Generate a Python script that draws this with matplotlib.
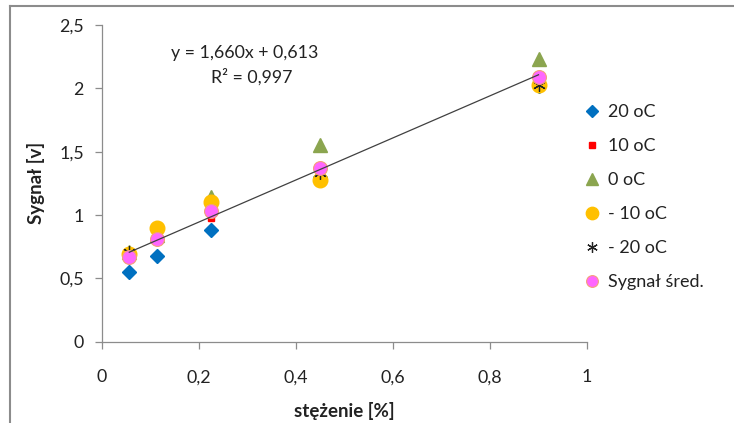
import matplotlib
matplotlib.use("Agg")
import matplotlib.pyplot as plt
from matplotlib.lines import Line2D
import numpy as np

plt.rcParams['font.family'] = ['Lato', 'DejaVu Sans']

# Data
conc = [0.05625, 0.1125, 0.225, 0.45, 0.9]
s20 = [0.553, 0.677, 0.88, 1.30, 2.02]
s10 = [0.69, 0.80, 0.98, 1.34, 2.05]
s0 = [0.71, 0.84, 1.14, 1.55, 2.23]
sm10 = [0.69, 0.90, 1.10, 1.28, 2.03]
sm20 = [0.71, 0.80, 1.02, 1.33, 2.03]
savg = [0.67, 0.81, 1.03, 1.37, 2.09]
labels = ['20 oC', '10 oC', '0 oC', '- 10 oC', '- 20 oC', 'Sygnał śred.']
slope, intercept, r2 = 1.660, 0.613, 0.997
xticks = [0, 0.2, 0.4, 0.6, 0.8, 1]
xtick_labels = ['0', '0,2', '0,4', '0,6', '0,8', '1']
yticks = [0, 0.5, 1, 1.5, 2, 2.5]
ytick_labels = ['0', '0,5', '1', '1,5', '2', '2,5']

fig = plt.figure(figsize=(7.34, 4.23), dpi=100)
ax = fig.add_axes([102/734, 1-341.7/423, 485/734, 316.7/423])

ax.plot(conc, s20, ls='none', marker='D', ms=7, color='#0070C0', label=labels[0], zorder=3)
ax.plot(conc, s10, ls='none', marker='s', ms=4.5, color='#FF0000', label=labels[1], zorder=3)
ax.plot(conc, s0, ls='none', marker='^', ms=10, color='#8BA54F', label=labels[2], zorder=3)
ax.plot(conc, sm10, ls='none', marker='o', ms=10.5, color='#FFC000', label=labels[3], zorder=3)
ax.plot(conc, sm20, ls='none', marker=(6, 2, 0), ms=9, mew=0.9, color='#222222', label=labels[4], zorder=3)
ax.plot(conc, savg, ls='none', marker='o', ms=10, mfc='#FF66FF', mec='#F4A07A', mew=0.8, label=labels[5], zorder=3)

xl = np.array([min(conc), max(conc)])
ax.plot(xl, slope*xl + intercept, color='#404040', lw=0.9, zorder=4)

ax.set_xlim(0, 1)
ax.set_ylim(0, 2.5)
ax.set_xticks(xticks)
ax.set_xticklabels(xtick_labels)
ax.set_yticks(yticks)
ax.set_yticklabels(ytick_labels)
for s in ['top', 'right']:
    ax.spines[s].set_visible(False)
for s in ['left', 'bottom']:
    ax.spines[s].set_color('#8C8C8C')
    ax.spines[s].set_linewidth(0.9)
ax.tick_params(axis='both', colors='#8C8C8C', length=5, width=0.9, labelcolor='#222222', labelsize=12.8)
ax.tick_params(axis='x', pad=15)
ax.tick_params(axis='y', pad=8)

ax.set_xlabel('stężenie [%]', fontsize=13.5, fontweight='bold', color='#222222', labelpad=12)
ax.set_ylabel('Sygnał [v]', fontsize=13.5, fontweight='bold', color='#222222', labelpad=10)

ax.text(245/734, 1-53/423, 'y = 1,660x + 0,613', transform=fig.transFigure, ha='center', va='center', fontsize=12.8, color='#222222')
ax.text(252/734, 1-77/423, 'R² = 0,997', transform=fig.transFigure, ha='center', va='center', fontsize=12.8, color='#222222')

leg = fig.legend(loc='upper left', bbox_to_anchor=(585/734, 1-104/423), frameon=False,
                 fontsize=13, handlelength=0.8, handletextpad=0.45, labelspacing=1.0,
                 borderpad=0, borderaxespad=0, markerscale=0.85)
for t in leg.get_texts():
    t.set_color('#222222')

# figure frame (top and left edges visible)
fig.add_artist(Line2D([9.5/734, 9.5/734], [0, 1-6.5/423], transform=fig.transFigure, color='#8C8C8C', lw=1.5))
fig.add_artist(Line2D([9.5/734, 1], [1-6.5/423, 1-6.5/423], transform=fig.transFigure, color='#8C8C8C', lw=1.5))

fig.savefig('out.png', dpi=100)
